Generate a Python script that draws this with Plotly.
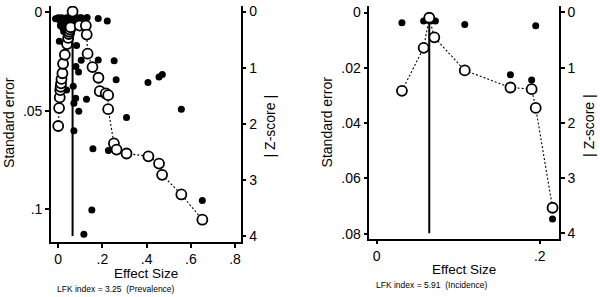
import plotly.graph_objects as go

# ---------------- data: left panel (Prevalence) ----------------
prev_es = [-0.012, 0.000, 0.008, 0.015, 0.022, 0.030, 0.038, 0.045, 0.052, 0.060,
           0.068, 0.075, 0.085, 0.095, 0.105, 0.010, 0.020, 0.030, 0.040, 0.050,
           0.060, 0.070, 0.080, 0.025, 0.045,
           0.131, 0.181, 0.222, 0.005, 0.083,
           0.181, 0.253, 0.104, 0.080, 0.092,
           0.262, 0.406, 0.456, 0.471,
           0.068, 0.038, 0.079, 0.128, 0.071, 0.093,
           0.557, 0.309, 0.071,
           0.157, 0.227, 0.152, 0.652, 0.116]
prev_se = [0.0035, 0.0030, 0.0045, 0.0030, 0.0055, 0.0040, 0.0030, 0.0050, 0.0035, 0.0025,
           0.0040, 0.0030, 0.0035, 0.0030, 0.0030, 0.0070, 0.0080, 0.0065, 0.0085, 0.0070,
           0.0060, 0.0075, 0.0060, 0.0100, 0.0110,
           0.0028, 0.0033, 0.0046, 0.0149, 0.0170,
           0.0243, 0.0248, 0.0245, 0.0277, 0.0304,
           0.0343, 0.0358, 0.0330, 0.0317,
           0.0376, 0.0396, 0.0437, 0.0442, 0.0462, 0.0503,
           0.0493, 0.0535, 0.0602,
           0.0693, 0.0701, 0.1003, 0.0954, 0.1125]
prev_doi_es = [0.000, 0.004, 0.007, 0.009, 0.011, 0.013, 0.015, 0.019, 0.022, 0.030,
               0.040, 0.045, 0.048, 0.050, 0.053, 0.056, 0.065, 0.097, 0.125, 0.129,
               0.133, 0.155, 0.182, 0.188, 0.215, 0.226, 0.226, 0.252, 0.264, 0.309,
               0.408, 0.456, 0.470, 0.557, 0.652]
prev_doi_z = [2.04, 1.72, 1.53, 1.40, 1.34, 1.28, 1.20, 1.10, 0.93, 0.77,
              0.58, 0.47, 0.40, 0.36, 0.32, 0.28, 0.00, 0.25, 0.25, 0.41,
              0.75, 0.99, 1.18, 1.42, 1.46, 1.49, 1.74, 2.35, 2.46, 2.53,
              2.58, 2.71, 2.91, 3.26, 3.71]

# ---------------- data: right panel (Incidence) ----------------
inc_es = [0.031, 0.0576, 0.063, 0.068, 0.072, 0.108, 0.195, 0.164, 0.190, 0.2156]
inc_se = [0.0037, 0.0031, 0.0028, 0.0030, 0.0031, 0.0043, 0.0048, 0.0225, 0.0244, 0.0747]
inc_doi_es = [0.031, 0.0576, 0.0645, 0.0707, 0.108, 0.164, 0.190, 0.195, 0.2156]
inc_doi_z = [1.42, 0.64, 0.095, 0.45, 1.05, 1.36, 1.39, 1.73, 3.54]

# tick labels
prev_x_ticks = [0, 0.2, 0.4, 0.6, 0.8]
prev_x_text = ["0", ".2", ".4", ".6", ".8"]
prev_se_ticks = [0, 0.05, 0.1]
prev_se_text = ["0", ".05", ".1"]
inc_x_ticks = [0, 0.2]
inc_x_text = ["0", ".2"]
inc_se_ticks = [0, 0.02, 0.04, 0.06, 0.08]
inc_se_text = ["0", ".02", ".04", ".06", ".08"]
z_ticks = [0, 1, 2, 3, 4]
z_text = ["0", "1", "2", "3", "4"]

lfk_prev = "LFK index = 3.25 \u00a0(Prevalence)"
lfk_inc = "LFK index = 5.91 \u00a0(Incidence)"

FONT = "Liberation Sans, Arial, Helvetica, sans-serif"
W, H = 600, 297


def px_x(v):
    return v / W


def px_y(v):
    return 1 - v / H


def vline_x(es, z):
    return es[z.index(min(z))]


fig = go.Figure()


def add_panel(es, se, des, dz, xa, ya, za):
    fig.add_trace(go.Scatter(x=es, y=se, mode="markers", xaxis=xa, yaxis=ya,
                             marker=dict(color="black", size=7, line=dict(width=0)),
                             showlegend=False, hoverinfo="skip"))
    xv = vline_x(des, dz)
    fig.add_trace(go.Scatter(x=[xv, xv], y=[0, 4], mode="lines", xaxis=xa, yaxis=za,
                             line=dict(color="black", width=2),
                             showlegend=False, hoverinfo="skip"))
    fig.add_trace(go.Scatter(x=des, y=dz, mode="lines+markers", xaxis=xa, yaxis=za,
                             line=dict(color="black", width=1.1, dash="2px,2px"),
                             marker=dict(color="white", size=10,
                                         line=dict(color="black", width=1.8)),
                             showlegend=False, hoverinfo="skip"))


add_panel(prev_es, prev_se, prev_doi_es, prev_doi_z, "x", "y", "y2")
add_panel(inc_es, inc_se, inc_doi_es, inc_doi_z, "x2", "y3", "y4")

axis_common = dict(showline=True, linecolor="black", linewidth=1.5,
                   ticks="outside", ticklen=4, tickwidth=1.5, tickcolor="black",
                   showgrid=False, zeroline=False,
                   tickfont=dict(family=FONT, size=14, color="black"))

dom_left_x = [px_x(51), px_x(241)]
dom_left_y = [px_y(244), px_y(4)]
dom_right_x = [px_x(370), px_x(560)]
dom_right_y = [px_y(240.7), px_y(4)]

fig.update_layout(
    width=W, height=H,
    margin=dict(l=0, r=0, t=0, b=0),
    paper_bgcolor="white", plot_bgcolor="white",
    showlegend=False,
    font=dict(family=FONT, color="black"),
    xaxis=dict(domain=dom_left_x, anchor="y", range=[-0.033, 0.825],
               tickvals=prev_x_ticks, ticktext=prev_x_text, **axis_common),
    yaxis=dict(domain=dom_left_y, anchor="x", range=[0.1164, -0.003],
               tickvals=prev_se_ticks, ticktext=prev_se_text, **axis_common),
    yaxis2=dict(overlaying="y", side="right", anchor="x", range=[4.105, -0.1],
                tickvals=z_ticks, ticktext=z_text, **axis_common),
    xaxis2=dict(domain=dom_right_x, anchor="y3", range=[-0.0089, 0.2236],
                tickvals=inc_x_ticks, ticktext=inc_x_text, **axis_common),
    yaxis3=dict(domain=dom_right_y, anchor="x2", range=[0.08178, -0.00238],
                tickvals=inc_se_ticks, ticktext=inc_se_text, **axis_common),
    yaxis4=dict(overlaying="y3", side="right", anchor="x2", range=[4.10, -0.119],
                tickvals=z_ticks, ticktext=z_text, **axis_common),
)

title_font = dict(family=FONT, size=14, color="black")
xtitle_font = dict(family=FONT, size=13.5, color="black")
small_font = dict(family=FONT, size=8.5, color="black")

annos = [
    dict(text="Standard error", x=px_x(9), y=px_y(122), textangle=-90, font=title_font),
    dict(text="| Z-score |", x=px_x(270), y=px_y(126), textangle=-90, font=title_font),
    dict(text="Effect Size", x=px_x(146), y=px_y(276.5), font=xtitle_font),
    dict(text=lfk_prev, x=px_x(55), y=px_y(291.8), font=small_font, xanchor="left"),
    dict(text="Standard error", x=px_x(327), y=px_y(122), textangle=-90, font=title_font),
    dict(text="| Z-score |", x=px_x(590), y=px_y(126), textangle=-90, font=title_font),
    dict(text="Effect Size", x=px_x(465), y=px_y(272.5), font=xtitle_font),
    dict(text=lfk_inc, x=px_x(375), y=px_y(288), font=small_font, xanchor="left"),
]
for a in annos:
    a.setdefault("xanchor", "center")
    fig.add_annotation(xref="paper", yref="paper", showarrow=False,
                       yanchor="middle", **a)

fig.write_html("out.html")
